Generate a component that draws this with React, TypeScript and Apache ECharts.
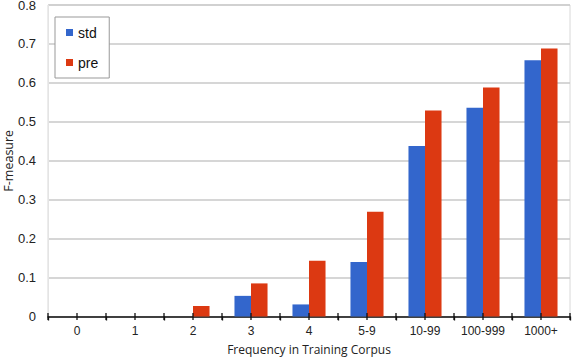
import React, { useEffect, useRef } from "react";
import * as echarts from "echarts";

const categories = ["0", "1", "2", "3", "4", "5-9", "10-99", "100-999", "1000+"];
const stdValues = [0, 0, 0, 0.053, 0.031, 0.14, 0.438, 0.536, 0.658];
const preValues = [0, 0, 0.027, 0.085, 0.143, 0.269, 0.529, 0.588, 0.688];
const tickBase = categories.map(() => 0);

export default function App() {
  const ref = useRef<HTMLDivElement>(null);
  useEffect(() => {
    const chart = echarts.init(ref.current!, null, { renderer: "svg" });
    const font = "'Liberation Sans', Arial, sans-serif";
    const nameFont = "'Open Sans', Lato, sans-serif";
    chart.setOption({
      animation: false,
      backgroundColor: "#fff",
      grid: {
        left: 48,
        right: 2,
        top: 5,
        bottom: 43.5,
        show: true,
        borderColor: "#d8d8d8",
        borderWidth: 1,
        outerBoundsMode: "none",
        containLabel: false,
      },
      legend: {
        orient: "vertical",
        left: 55,
        top: 17,
        data: ["std", "pre"],
        icon: "rect",
        itemWidth: 7,
        itemHeight: 7,
        itemGap: 15,
        padding: [8, 11, 8, 11],
        borderColor: "#999",
        borderWidth: 1,
        backgroundColor: "#fff",
        textStyle: { fontFamily: font, fontSize: 14, color: "#111", lineHeight: 15 },
      },
      xAxis: {
        type: "category",
        data: categories,
        name: "Frequency in Training Corpus",
        nameLocation: "middle",
        nameGap: 27,
        nameMoveOverlap: false,
        nameTextStyle: { fontFamily: nameFont, fontSize: 12, color: "#222" },
        axisLine: { show: true, onZero: false, lineStyle: { color: "#111", width: 1.5 } },
        axisTick: { show: true, interval: 0, length: 4, lineStyle: { color: "#111", width: 1.3 } },
        axisLabel: { fontFamily: font, fontSize: 12, color: "#222", margin: 8, interval: 0 },
        splitLine: { show: false },
      },
      yAxis: {
        type: "value",
        min: 0,
        max: 0.8,
        interval: 0.1,
        name: "F-measure",
        nameLocation: "middle",
        nameGap: 33,
        nameMoveOverlap: false,
        nameTextStyle: { fontFamily: nameFont, fontSize: 12.5, color: "#222" },
        axisLine: { show: true, lineStyle: { color: "#e4e4e4", width: 1 } },
        axisTick: { show: false },
        axisLabel: {
          fontFamily: font,
          fontSize: 13,
          color: "#222",
          margin: 12,
          formatter: (v: number) => (v === 0 ? "0" : v.toFixed(1)),
        },
        splitLine: { show: true, lineStyle: { color: "#c8c8c8", width: 1.6 } },
      },
      series: [
        {
          name: "std",
          type: "bar",
          data: stdValues,
          itemStyle: { color: "#3366CC" },
          barGap: "0%",
          barCategoryGap: "43%",
        },
        {
          name: "pre",
          type: "bar",
          data: preValues,
          itemStyle: { color: "#DC3912" },
          barGap: "0%",
          barCategoryGap: "43%",
        },
        {
          name: "ticks",
          type: "custom",
          silent: true,
          clip: false,
          z: 10,
          data: tickBase.map((v, i) => [i, v]),
          renderItem: (params: any, api: any) => {
            const idx = api.value(0);
            const c = api.coord([idx, 0]);
            const w = api.size([1, 0])[0];
            const xs = [c[0] - w / 2, c[0]];
            if (idx === categories.length - 1) xs.push(c[0] + w / 2);
            return {
              type: "group",
              children: xs.map((x) => ({
                type: "rect",
                shape: { x: x - 0.65, y: c[1] - 3.5, width: 1.3, height: 7 },
                style: { fill: "#111" },
              })),
            };
          },
        },
      ],
    });
    return () => chart.dispose();
  }, []);
  return <div ref={ref} style={{ width: 572, height: 360, position: "absolute", left: 0, top: 0 }} />;
}
